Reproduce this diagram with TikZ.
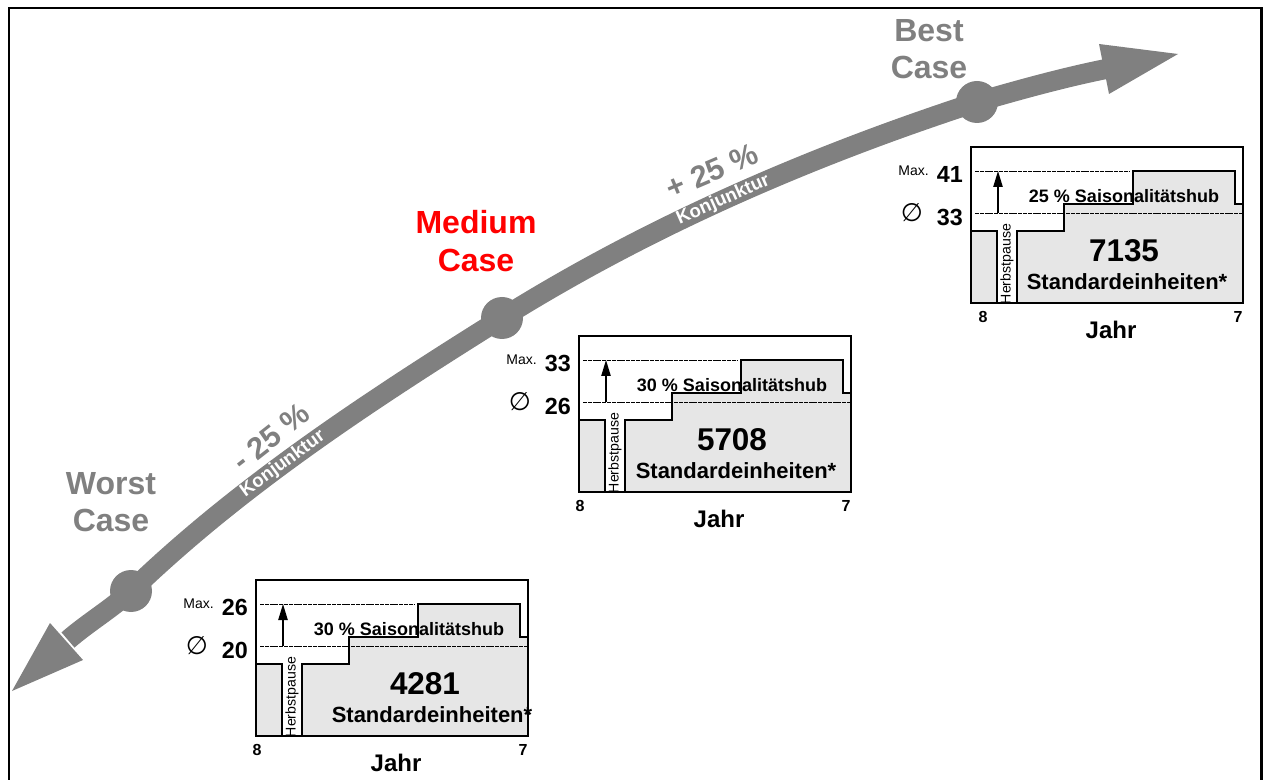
\documentclass[tikz,border=0pt]{standalone}
\usepackage{fontspec}
\setmainfont{Liberation Sans}
\newfontfamily\symbolfont{DejaVu Sans}
\usetikzlibrary{arrows.meta}
\definecolor{bandgray}{RGB}{128,128,128}
\definecolor{chartfill}{RGB}{230,230,230}
\definecolor{mediumred}{RGB}{255,0,0}
\tikzset{
  band/.style={draw=bandgray, line width=15pt},
  stage/.style={circle, fill=bandgray, minimum size=31.5pt, inner sep=0pt},
  caselabel/.style={font=\fontsize{24}{28}\selectfont\bfseries, align=center, inner sep=0pt, text=bandgray},
  pctlabel/.style={font=\fontsize{23}{23}\selectfont\bfseries, inner sep=0pt, text=bandgray},
  konj/.style={font=\fontsize{14}{14}\selectfont\bfseries, inner sep=0pt, text=white},
  chartbold/.style={font=\fontsize{#1}{#1}\selectfont\bfseries, inner sep=0pt},
  chartthin/.style={font=\fontsize{#1}{#1}\selectfont, inner sep=0pt}
}
\begin{document}
\begin{tikzpicture}[x=0.75pt,y=0.75pt,yscale=-1,xscale=1]
        \useasboundingbox (0,0) rectangle (1264,780);
        % frame
        \draw [line width=2pt] (9,800) -- (9,8) -- (1261.5,8) -- (1261.5,800);

        % scenario curve
        \node [stage] (worst) at (131,591) {};
        \node [stage] (medium) at (502,318) {};
        \node [stage] (best) at (977,102) {};
        \coordinate (tailbase) at (68,640);
        \coordinate (headbase) at (1106,69);
        \fill [bandgray] (12,691) -- (50,623) -- (83,660) -- cycle;
        \fill [bandgray] (1178,54) -- (1099,44) -- (1109,94) -- cycle;
        \draw [band] (tailbase) .. controls (86.7,623.6) and (110.9,609.1) .. (worst.center)
              .. controls (241,484.7) and (372.3,399.1) .. (medium.center) node [konj, pos=0.43, rotate=36] (konjdown) {Konjunktur}
              .. controls (649.6,225.8) and (811.5,155.8) .. (best.center) node [konj, pos=0.48, rotate=24] (konjup) {Konjunktur}
              .. controls (1019.3,89.9) and (1061,78.1) .. (headbase);

        \node [caselabel] (worstlbl) at (111,502) {Worst\\Case};
        \node [caselabel, text=mediumred] (mediumlbl) at (476,241) {Medium\\Case};
        \node [caselabel] (bestlbl) at (929,49) {Best\\Case};
        \node [pctlabel, rotate=38] (minuslbl) at (271,437) {- 25 \%};
        \node [pctlabel, rotate=23] (pluslbl) at (712,171) {+ 25 \%};

        % season charts
        \foreach \cx/\cy/\vmax/\vavg/\hub/\total/\tx/\sx/\ex [count=\i] in
            {256/580/26/20/30/4281/169/176/1, 579/336/33/26/30/5708/153/157/1, 971/147/41/33/25/7135/153/156/12}
        {
          \begin{scope}[shift={(\cx,\cy)}]
            \draw [fill=chartfill, line width=1pt] (0,156) -- (0,84) -- (26,84) -- (26,156) -- (46,156) -- (46,84)
                  -- (93,84) -- (93,57) -- (162,57) -- (162,24) -- (264,24) -- (264,57) -- (272,57) -- (272,156) -- cycle;
            \draw [line width=0.6pt, dash pattern=on 3pt off 0.6pt] (4,24) -- (158,24);
            \draw [line width=0.6pt, dash pattern=on 3pt off 0.6pt] (4,66) -- (272,66);
            \coordinate (base\i) at (27,66);
            \coordinate (peak\i) at (27,24);
            \draw [line width=1pt, -{Triangle[length=12pt,width=7pt]}] (base\i) -- (peak\i);
            \draw [line width=1.5pt] (0,0) rectangle (272,156);
            \node [chartthin=10.5, anchor=east] (maxlbl\i) at (-42,24) {Max.};
            \node [chartbold=17.5, anchor=east] (maxval\i) at (-8,27) {\vmax};
            \node [inner sep=0pt] (avgsym\i) at (-59,66) {\fontsize{19}{19}\selectfont\symbolfont ∅};
            \node [chartbold=17.5, anchor=east] (avgval\i) at (-8,70) {\vavg};
            \node [chartbold=13.5] (hub\i) at (153,49) {\hub~\% Saisonalitätshub};
            \node [chartbold=23.6] (total\i) at (\tx,104) {\total};
            \node [chartbold=16.5] (unit\i) at (\sx,135) {Standardeinheiten*};
            \node [chartthin=10.6, rotate=90] (pause\i) at (36,117) {Herbstpause};
            \node [chartbold=12] (start\i) at (\ex,170) {8};
            \node [chartbold=12] (end\i) at (267,170) {7};
            \node [chartbold=18] (year\i) at (140,183) {Jahr};
          \end{scope}
        }
    \end{tikzpicture}
\end{document}
